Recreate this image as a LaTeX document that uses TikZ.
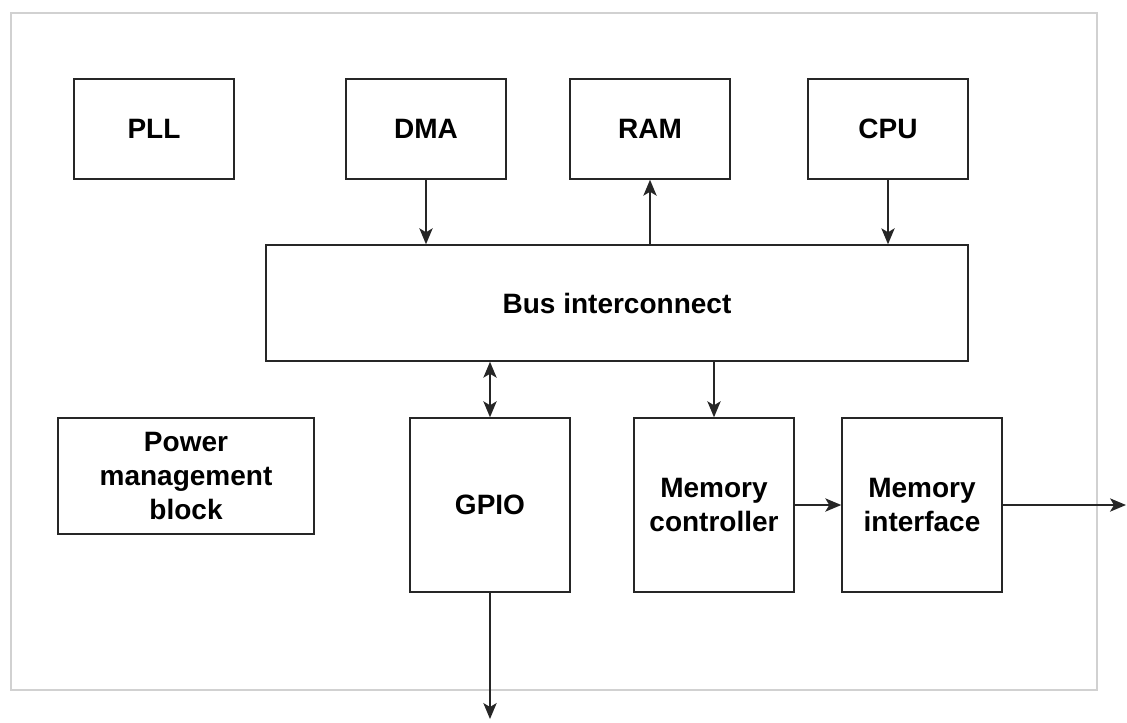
\documentclass[tikz,border=0pt]{standalone}
\usepackage{fontspec}
\setmainfont{Liberation Sans}
\usetikzlibrary{arrows.meta}
\begin{document}
\begin{tikzpicture}[x=0.75pt,y=-0.75pt,
  tip/.tip={Stealth[length=12pt,width=10pt,inset=3pt]},
  blk/.style={draw=black!85, line width=1.1pt, fill=white, inner sep=0pt,
    align=center, font=\fontsize{21}{25.5}\selectfont\bfseries},
  small/.style={blk, minimum width=120pt, minimum height=75pt},
  tall/.style={blk, minimum width=120pt, minimum height=130.5pt},
  link/.style={draw=black!85, line width=1.1pt, -tip},
  frame/.style={draw=black!18, line width=1.9pt}]
\useasboundingbox (0,0) rectangle (1127,722);
% chip outline
\draw[frame] (11,13) rectangle (1097,690);
% top row
\node[small] (pll) at (154,129) {PLL};
\node[small] (dma) at (426,129) {DMA};
\node[small] (ram) at (650,129) {RAM};
\node[small] (cpu) at (888,129) {CPU};
% interconnect
\node[blk, minimum width=526.5pt, minimum height=87pt] (bus) at (617,303) {Bus interconnect};
% bottom row
\node[blk, minimum width=192pt, minimum height=87pt] (pmb) at (186,476) {Power\\management\\block};
\node[tall] (gpio) at (490,505) {GPIO};
\node[tall] (mc) at (714,505) {Memory\\controller};
\node[tall] (mi) at (922,505) {Memory\\interface};
% off-chip ends
\coordinate (extmem) at (1126,505);
\coordinate (extio) at (490,719);
% connections
\draw[link] (dma.south) -- (dma.south |- bus.north);
\draw[link] (bus.north -| ram.south) -- (ram.south);
\draw[link] (cpu.south) -- (cpu.south |- bus.north);
\draw[link, tip-tip] (bus.south -| gpio.north) -- (gpio.north);
\draw[link] (bus.south -| mc.north) -- (mc.north);
\draw[link] (mc.east) -- (mi.west);
\draw[link] (mi.east) -- (extmem);
\draw[link] (gpio.south) -- (extio);
\end{tikzpicture}
\end{document}
